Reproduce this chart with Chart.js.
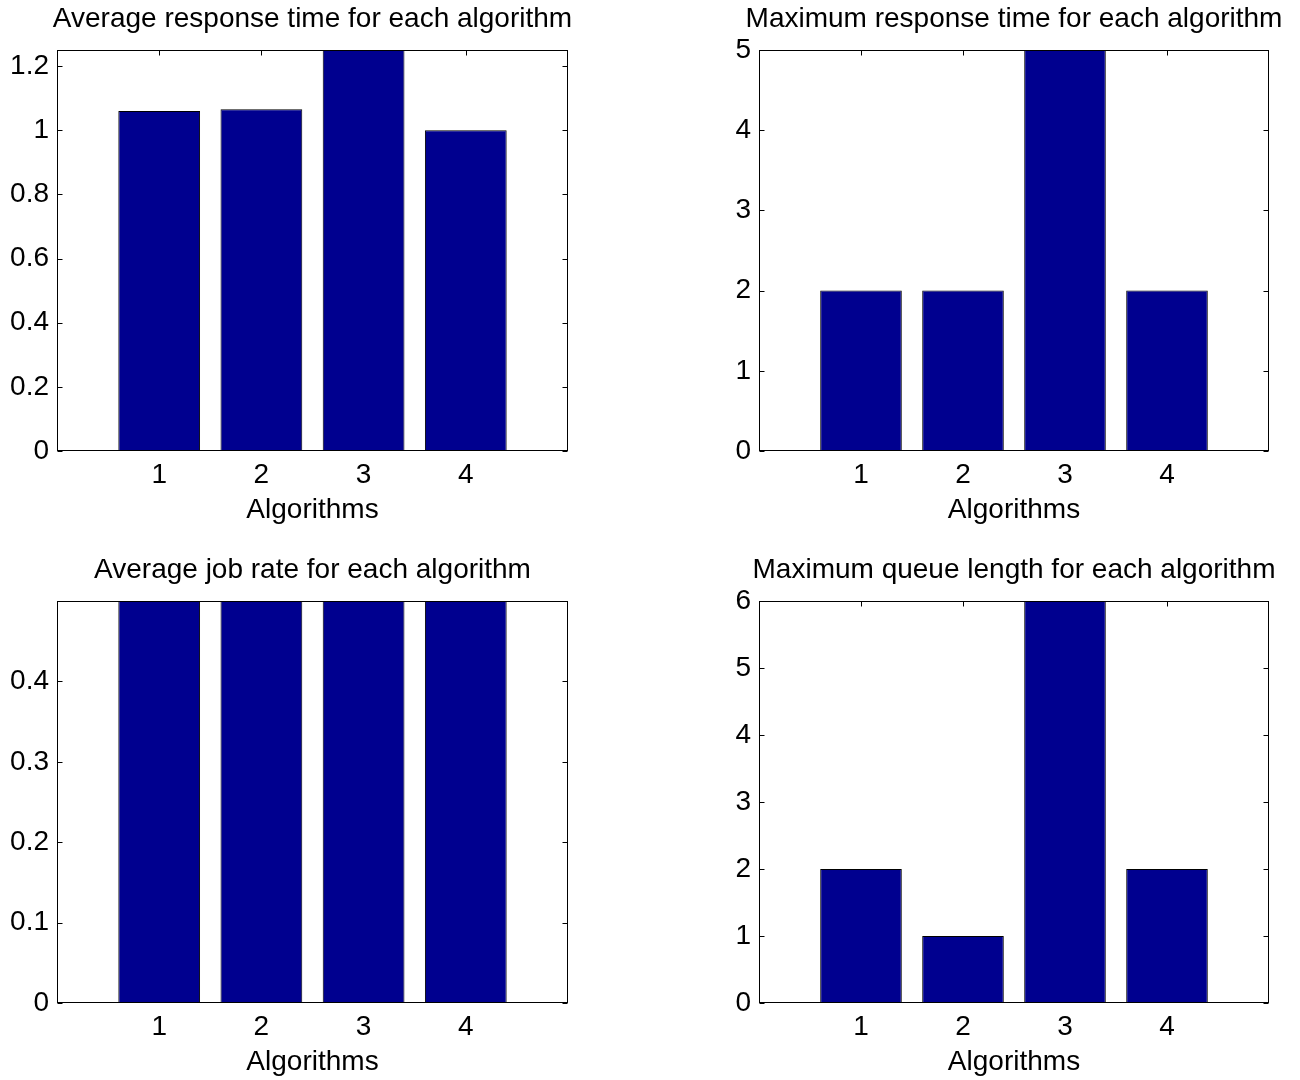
<!DOCTYPE html>
<html>
<head>
<meta charset="utf-8">
<script src="https://cdn.jsdelivr.net/npm/chart.js@4"></script>
<style>
  html, body { margin: 0; padding: 0; background: #fff; overflow: hidden; }
  .panel { position: absolute; }
</style>
</head>
<body>
<div class="panel" style="left:0px;top:0px;width:625px;height:540px"><canvas id="c1"></canvas></div>
<div class="panel" style="left:728px;top:0px;width:572px;height:540px"><canvas id="c2"></canvas></div>
<div class="panel" style="left:0px;top:550px;width:625px;height:530px"><canvas id="c3"></canvas></div>
<div class="panel" style="left:728px;top:550px;width:572px;height:530px"><canvas id="c4"></canvas></div>
<script>
// data
const algorithms = [1, 2, 3, 4];
const avgResponseTime = [1.06, 1.065, 1.25, 1.0];
const maxResponseTime = [2, 2, 5, 2];
const avgJobRate = [0.5, 0.5, 0.5, 0.5];
const maxQueueLength = [2, 1, 6, 2];

// y tick labels per subplot
const avgResponseTicks = [0, 0.2, 0.4, 0.6, 0.8, 1, 1.2];
const maxResponseTicks = [0, 1, 2, 3, 4, 5];
const jobRateTicks = [0, 0.1, 0.2, 0.3, 0.4];
const queueTicks = [0, 1, 2, 3, 4, 5, 6];

const FONT = "'Liberation Sans', Arial, sans-serif";
const FONT_SIZE = 28;
const BAR_COLOR = "#00008F";

// MATLAB style box with inward ticks on all four sides
const boxTicks = {
    id: "boxTicks",
    beforeDatasetsDraw(chart) {
        const { ctx, chartArea: a, scales } = chart;
        const L = Math.round(a.left) + 0.5, R = Math.round(a.right) - 0.5;
        const T = Math.round(a.top) + 0.5, B = Math.round(a.bottom) - 0.5;
        ctx.save();
        ctx.strokeStyle = "#000";
        ctx.lineWidth = 1;
        ctx.beginPath();
        scales.y.ticks.forEach((t) => {
            const y = Math.round(scales.y.getPixelForValue(t.value)) + 0.5;
            ctx.moveTo(L, y); ctx.lineTo(L + 5, y);
            ctx.moveTo(R, y); ctx.lineTo(R - 5, y);
        });
        scales.x.ticks.forEach((t) => {
            const x = Math.round(scales.x.getPixelForValue(t.value)) + 0.5;
            ctx.moveTo(x, B); ctx.lineTo(x, B - 5);
            ctx.moveTo(x, T); ctx.lineTo(x, T + 5);
        });
        ctx.stroke();
        ctx.restore();
    },
    afterDatasetsDraw(chart) {
        const { ctx, chartArea: a } = chart;
        ctx.save();
        ctx.strokeStyle = "#000";
        ctx.lineWidth = 1;
        ctx.strokeRect(Math.round(a.left) + 0.5, Math.round(a.top) + 0.5,
            Math.round(a.right) - Math.round(a.left) - 1, Math.round(a.bottom) - Math.round(a.top) - 1);
        ctx.restore();
    },
};

function makeChart(id, title, values, yTicks, yMax, opts) {
    const cfg = {
        type: "bar",
        data: {
            datasets: [{
                data: algorithms.map((a, i) => ({ x: a, y: values[i] })),
                backgroundColor: BAR_COLOR,
                borderColor: "#000",
                borderWidth: 1,
                borderSkipped: false,
                barPercentage: 0.8,
                categoryPercentage: 1,
            }],
        },
        options: {
            responsive: true,
            maintainAspectRatio: false,
            animation: false,
            layout: { padding: 0 },
            plugins: {
                legend: { display: false },
                tooltip: { enabled: false },
                title: {
                    display: true,
                    text: title,
                    color: "#000",
                    font: { family: FONT, size: FONT_SIZE, weight: "normal" },
                    padding: { top: opts.titleTop, bottom: 14 },
                },
            },
            scales: {
                x: {
                    type: "linear",
                    min: 0,
                    max: 5,
                    offset: false,
                    grid: { display: false, drawTicks: false },
                    border: { display: false },
                    afterBuildTicks: (s) => { s.ticks = algorithms.map((v) => ({ value: v })); },
                    afterFit: (s) => { s.height = opts.xHeight; },
                    ticks: {
                        color: "#000",
                        padding: 7,
                        font: { family: FONT, size: FONT_SIZE },
                        callback: (v) => String(v),
                    },
                    title: {
                        display: true,
                        text: "Algorithms",
                        color: "#000",
                        font: { family: FONT, size: FONT_SIZE },
                        padding: { top: 0, bottom: opts.xTitleBottom },
                    },
                },
                y: {
                    min: 0,
                    max: yMax,
                    grid: { display: false, drawTicks: false },
                    border: { display: false },
                    afterBuildTicks: (s) => { s.ticks = yTicks.map((v) => ({ value: v })); },
                    afterFit: (s) => { s.width = opts.yWidth; },
                    ticks: {
                        color: "#000",
                        padding: 8,
                        font: { family: FONT, size: FONT_SIZE },
                        callback: (v) => String(v),
                    },
                },
                // empty right-hand axis, only there so the title centres over the plot box
                yRight: {
                    position: "right",
                    min: 0,
                    max: yMax,
                    grid: { display: false, drawTicks: false },
                    border: { display: false },
                    ticks: { display: false },
                    afterFit: (s) => { s.width = opts.yWidth; },
                },
            },
        },
        plugins: [boxTicks],
    };
    return new Chart(document.getElementById(id), cfg);
}

const topOpts = { yWidth: 57, xHeight: 89, titleTop: 2.4, xTitleBottom: 13.2 };
const topRightOpts = { yWidth: 31, xHeight: 89, titleTop: 2.4, xTitleBottom: 13.2 };
const botOpts = { yWidth: 57, xHeight: 77, titleTop: 3.4, xTitleBottom: 1.2 };
const botRightOpts = { yWidth: 31, xHeight: 77, titleTop: 3.4, xTitleBottom: 1.2 };

makeChart("c1", "Average response time for each algorithm", avgResponseTime, avgResponseTicks, 1.25, topOpts);
makeChart("c2", "Maximum response time for each algorithm", maxResponseTime, maxResponseTicks, 5, topRightOpts);
makeChart("c3", "Average job rate for each algorithm", avgJobRate, jobRateTicks, 0.5, botOpts);
makeChart("c4", "Maximum queue length for each algorithm", maxQueueLength, queueTicks, 6, botRightOpts);
</script>
</body>
</html>
